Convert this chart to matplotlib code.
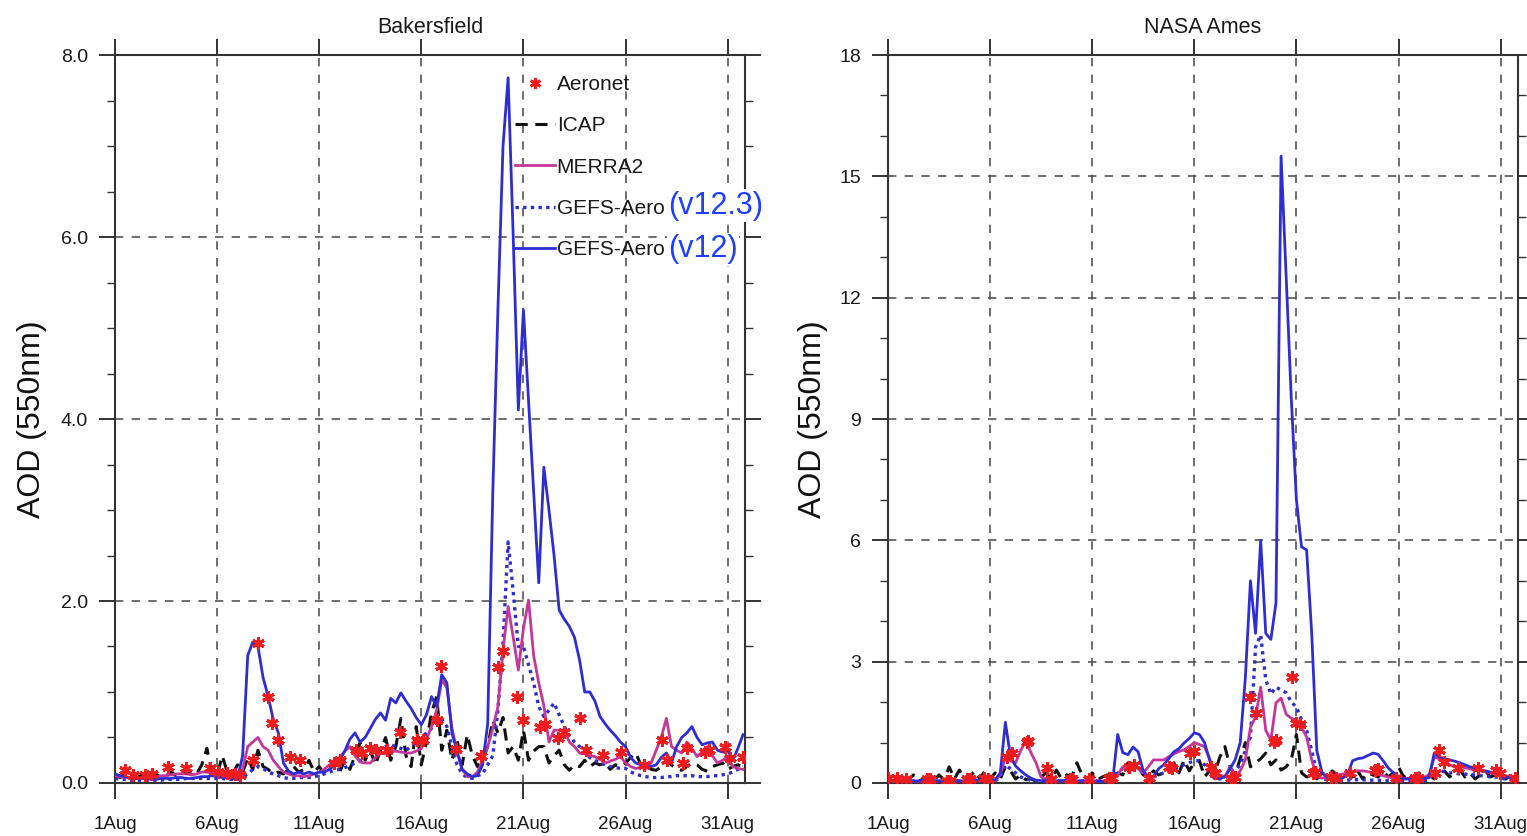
import numpy as np
import matplotlib.pyplot as plt
from matplotlib.lines import Line2D
from matplotlib.ticker import MultipleLocator, FormatStrFormatter

plt.rcParams['font.family'] = ['Liberation Sans', 'DejaVu Sans']

# model series are 6-hourly from 1 Aug 00Z (4 values per day, 31 days)
STEP = 0.25

date_ticks = [0, 5, 10, 15, 20, 25, 30]
date_labels = ['1Aug', '6Aug', '11Aug', '16Aug', '21Aug', '26Aug', '31Aug']

# ---- Bakersfield ----
bak_v12 = [
    0.10, 0.08, 0.07, 0.06,  0.05, 0.05, 0.05, 0.04,  0.04, 0.05, 0.05, 0.05,
    0.06, 0.06, 0.05, 0.05,  0.06, 0.07, 0.07, 0.08,  0.07, 0.06, 0.06, 0.05,
    0.05, 0.30, 1.40, 1.55,  1.50, 1.16, 0.95, 0.70,  0.55, 0.22, 0.13, 0.10,
    0.12, 0.10, 0.12, 0.10,  0.12, 0.12, 0.15, 0.20,  0.25, 0.35, 0.48, 0.55,
    0.45, 0.50, 0.60, 0.70,  0.77, 0.69, 0.93, 0.88,  0.99, 0.90, 0.82, 0.72,
    0.64, 0.75, 0.95, 0.84,  1.19, 1.10, 0.55, 0.35,  0.15, 0.10, 0.07, 0.08,
    0.20, 0.65, 3.20, 5.20,  7.00, 7.75, 6.00, 4.10,  5.20, 4.20, 3.20, 2.20,
    3.47, 3.00, 2.50, 1.90,  1.80, 1.72, 1.60, 1.35,  1.00, 1.00, 0.90, 0.73,
    0.65, 0.58, 0.52, 0.45,  0.40, 0.28, 0.22, 0.20,  0.18, 0.18, 0.20, 0.28,
    0.33, 0.22, 0.40, 0.50,  0.55, 0.62, 0.50, 0.42,  0.44, 0.45, 0.36, 0.34,
    0.36, 0.25, 0.38, 0.53,
]
bak_v123 = [
    0.05, 0.04, 0.04, 0.03,  0.03, 0.03, 0.03, 0.03,  0.03, 0.03, 0.04, 0.04,
    0.04, 0.04, 0.05, 0.05,  0.05, 0.05, 0.05, 0.05,  0.05, 0.05, 0.04, 0.04,
    0.04, 0.06, 0.10, 0.15,  0.18, 0.16, 0.12, 0.10,  0.08, 0.06, 0.05, 0.05,
    0.06, 0.06, 0.06, 0.07,  0.08, 0.10, 0.12, 0.14,  0.15, 0.17, 0.19, 0.22,
    0.25, 0.30, 0.32, 0.35,  0.38, 0.40, 0.42, 0.40,  0.38, 0.36, 0.40, 0.45,
    0.50, 0.55, 0.60, 0.66,  0.70, 0.62, 0.40, 0.20,  0.10, 0.06, 0.05, 0.08,
    0.10, 0.20, 0.30, 0.80,  1.54, 2.65, 2.10, 1.50,  1.50, 1.30, 1.10, 0.84,
    0.73, 0.80, 0.88, 0.75,  0.62, 0.52, 0.45, 0.40,  0.33, 0.28, 0.25, 0.22,
    0.20, 0.18, 0.17, 0.16,  0.16, 0.12, 0.10, 0.08,  0.07, 0.06, 0.06, 0.06,
    0.07, 0.07, 0.08, 0.08,  0.08, 0.08, 0.07, 0.07,  0.07, 0.08, 0.08, 0.09,
    0.10, 0.12, 0.15, 0.18,
]
bak_merra = [
    0.08, 0.07, 0.06, 0.06,  0.05, 0.05, 0.06, 0.06,  0.07, 0.08, 0.08, 0.09,
    0.10, 0.10, 0.10, 0.09,  0.10, 0.12, 0.12, 0.11,  0.10, 0.09, 0.08, 0.07,
    0.08, 0.15, 0.40, 0.45,  0.50, 0.40, 0.36, 0.25,  0.18, 0.12, 0.10, 0.08,
    0.08, 0.07, 0.08, 0.10,  0.12, 0.15, 0.20, 0.22,  0.28, 0.35, 0.40, 0.30,
    0.23, 0.22, 0.22, 0.28,  0.33, 0.32, 0.35, 0.35,  0.34, 0.33, 0.33, 0.35,
    0.38, 0.48, 0.62, 0.80,  1.13, 1.05, 0.60, 0.35,  0.15, 0.07, 0.07, 0.12,
    0.25, 0.40, 0.60, 0.84,  1.46, 1.94, 1.60, 1.24,  1.70, 2.01, 1.40, 1.10,
    0.85, 0.45, 0.58, 0.58,  0.58, 0.45, 0.40, 0.33,  0.32, 0.30, 0.29, 0.26,
    0.22, 0.24, 0.26, 0.29,  0.22, 0.18, 0.16, 0.17,  0.16, 0.22, 0.36, 0.50,
    0.71, 0.40, 0.36, 0.33,  0.45, 0.38, 0.29, 0.34,  0.40, 0.30, 0.22, 0.25,
    0.29, 0.18, 0.16, 0.15,
]
bak_icap = [
    0.08, 0.06, 0.10, 0.05,  0.05, 0.08, 0.04, 0.06,  0.10, 0.06, 0.08, 0.12,
    0.08, 0.10, 0.15, 0.08,  0.10, 0.20, 0.38, 0.12,  0.08, 0.30, 0.12, 0.10,
    0.20, 0.12, 0.27, 0.15,  0.36, 0.18, 0.15, 0.10,  0.12, 0.10, 0.15, 0.18,
    0.12, 0.15, 0.25, 0.12,  0.18, 0.10, 0.15, 0.22,  0.12, 0.25, 0.15, 0.30,
    0.44, 0.25, 0.36, 0.20,  0.36, 0.50, 0.25, 0.40,  0.71, 0.30, 0.18, 0.62,
    0.20, 0.45, 0.77, 0.95,  0.36, 0.58, 0.25, 0.47,  0.20, 0.53, 0.30, 0.18,
    0.25, 0.40, 0.69, 0.55,  0.72, 0.33, 0.40, 0.25,  0.58, 0.25, 0.35, 0.40,
    0.40, 0.22, 0.30, 0.36,  0.20, 0.14, 0.20, 0.18,  0.25, 0.18, 0.22, 0.20,
    0.22, 0.15, 0.20, 0.18,  0.22, 0.28, 0.33, 0.20,  0.22, 0.15, 0.14, 0.18,
    0.25, 0.20, 0.15, 0.14,  0.18, 0.22, 0.20, 0.15,  0.13, 0.18, 0.20, 0.22,
    0.15, 0.18, 0.20, 0.18,
]
bak_obs_day = [0.5, 0.9, 1.47, 1.8, 2.6, 3.5, 4.65, 5.05, 5.5, 5.9, 6.1, 6.75,
               7.0, 7.5, 7.7, 8.0, 8.56, 9.05, 10.7, 11.0, 11.8, 12.1, 12.5,
               12.8, 13.3, 13.95, 14.8, 15.1, 15.75, 15.95, 16.7, 17.9, 18.75,
               19.0, 19.7, 20.0, 20.8, 21.05, 21.7, 22.0, 22.76, 23.05, 23.9,
               24.8, 25.9, 26.8, 27.05, 27.8, 28.0, 28.9, 29.1, 29.85, 30.1,
               30.75]
bak_obs_aod = [0.14, 0.09, 0.09, 0.10, 0.18, 0.16, 0.16, 0.12, 0.11, 0.10,
               0.09, 0.25, 1.54, 0.95, 0.66, 0.47, 0.29, 0.25, 0.22, 0.25,
               0.36, 0.33, 0.39, 0.36, 0.36, 0.56, 0.47, 0.47, 0.69, 1.29,
               0.37, 0.30, 1.28, 1.45, 0.95, 0.69, 0.62, 0.65, 0.49, 0.56,
               0.71, 0.36, 0.31, 0.34, 0.20, 0.47, 0.25, 0.22, 0.38, 0.34,
               0.36, 0.40, 0.27, 0.29]

# ---- NASA Ames ----
ames_v12 = [
    0.08, 0.07, 0.06, 0.06,  0.05, 0.05, 0.05, 0.06,  0.06, 0.05, 0.05, 0.06,
    0.07, 0.06, 0.05, 0.05,  0.06, 0.07, 0.07, 0.06,  0.06, 0.08, 0.25, 1.50,
    0.65, 0.42, 0.30, 0.20,  0.12, 0.07, 0.06, 0.05,  0.05, 0.05, 0.06, 0.06,
    0.06, 0.05, 0.05, 0.05,  0.05, 0.04, 0.04, 0.03,  0.03, 1.20, 0.75, 0.70,
    0.89, 0.77, 0.30, 0.15,  0.15, 0.35, 0.45, 0.60,  0.77, 0.85, 0.99, 1.10,
    1.24, 1.20, 1.00, 0.57,  0.10, 0.12, 0.15, 0.35,  0.57, 1.00, 2.60, 5.00,
    3.70, 6.00, 3.70, 3.55,  4.45, 15.5, 12.5, 9.50,  7.00, 5.84, 5.76, 3.70,
    0.80, 0.27, 0.15, 0.10,  0.10, 0.12, 0.20, 0.55,  0.60, 0.62, 0.68, 0.74,
    0.71, 0.55, 0.37, 0.25,  0.12, 0.10, 0.10, 0.10,  0.11, 0.12, 0.13, 0.74,
    0.64, 0.60, 0.57, 0.54,  0.50, 0.45, 0.40, 0.37,  0.33, 0.30, 0.27, 0.25,
    0.20, 0.15, 0.12, 0.10,
]
ames_v123 = [
    0.05, 0.04, 0.04, 0.04,  0.04, 0.05, 0.05, 0.05,  0.05, 0.05, 0.05, 0.05,
    0.05, 0.05, 0.05, 0.06,  0.06, 0.06, 0.05, 0.05,  0.05, 0.05, 0.15, 0.45,
    0.35, 0.25, 0.15, 0.10,  0.07, 0.05, 0.05, 0.05,  0.05, 0.05, 0.05, 0.05,
    0.05, 0.05, 0.05, 0.05,  0.05, 0.05, 0.05, 0.05,  0.05, 0.30, 0.35, 0.30,
    0.40, 0.35, 0.25, 0.15,  0.15, 0.20, 0.25, 0.30,  0.35, 0.40, 0.45, 0.50,
    0.55, 0.55, 0.45, 0.30,  0.10, 0.10, 0.12, 0.20,  0.30, 0.45, 0.80, 1.14,
    3.36, 3.66, 2.55, 2.20,  2.37, 2.30, 2.23, 2.00,  1.88, 1.56, 1.30, 0.80,
    0.25, 0.12, 0.08, 0.06,  0.06, 0.06, 0.07, 0.08,  0.08, 0.08, 0.07, 0.07,
    0.07, 0.06, 0.06, 0.06,  0.05, 0.05, 0.05, 0.05,  0.06, 0.06, 0.08, 0.30,
    0.30, 0.28, 0.25, 0.25,  0.22, 0.22, 0.20, 0.20,  0.18, 0.18, 0.15, 0.15,
    0.12, 0.10, 0.10, 0.08,
]
ames_merra = [
    0.06, 0.05, 0.05, 0.05,  0.05, 0.05, 0.04, 0.04,  0.05, 0.05, 0.05, 0.06,
    0.06, 0.05, 0.05, 0.05,  0.05, 0.06, 0.06, 0.05,  0.05, 0.06, 0.20, 0.64,
    0.55, 0.50, 0.80, 1.06,  0.75, 0.50, 0.15, 0.08,  0.06, 0.05, 0.05, 0.05,
    0.05, 0.05, 0.05, 0.05,  0.05, 0.05, 0.05, 0.06,  0.08, 0.20, 0.40, 0.42,
    0.45, 0.35, 0.25, 0.40,  0.57, 0.57, 0.57, 0.65,  0.72, 0.78, 0.82, 0.90,
    1.00, 0.95, 0.90, 0.60,  0.25, 0.20, 0.15, 0.40,  0.15, 0.30, 0.57, 1.38,
    1.63, 2.37, 1.30, 1.06,  1.98, 2.10, 1.70, 1.60,  1.56, 1.38, 1.14, 0.57,
    0.15, 0.12, 0.15, 0.18,  0.20, 0.22, 0.25, 0.28,  0.30, 0.30, 0.28, 0.25,
    0.22, 0.18, 0.15, 0.12,  0.10, 0.10, 0.12, 0.12,  0.12, 0.14, 0.20, 0.64,
    0.60, 0.55, 0.45, 0.40,  0.40, 0.38, 0.35, 0.32,  0.30, 0.28, 0.25, 0.22,
    0.20, 0.18, 0.15, 0.12,
]
ames_icap = [
    0.10, 0.05, 0.15, 0.05,  0.08, 0.20, 0.05, 0.10,  0.15, 0.05, 0.20, 0.08,
    0.40, 0.10, 0.32, 0.08,  0.15, 0.30, 0.10, 0.30,  0.10, 0.25, 0.10, 0.40,
    0.30, 0.10, 0.20, 0.08,  0.10, 0.05, 0.15, 0.25,  0.10, 0.32, 0.10, 0.20,
    0.15, 0.50, 0.20, 0.10,  0.25, 0.08, 0.15, 0.20,  0.10, 0.25, 0.20, 0.50,
    0.30, 0.40, 0.20, 0.15,  0.30, 0.20, 0.25, 0.35,  0.50, 0.25, 0.57, 0.30,
    0.50, 0.55, 0.15, 0.30,  0.25, 0.64, 0.90, 0.40,  0.20, 0.60, 1.00, 0.40,
    0.50, 0.60, 0.74, 0.45,  0.57, 0.32, 0.40, 0.57,  1.20, 0.25, 0.15, 0.20,
    0.10, 0.25, 0.15, 0.30,  0.20, 0.10, 0.25, 0.15,  0.30, 0.10, 0.25, 0.20,
    0.15, 0.30, 0.15, 0.25,  0.40, 0.15, 0.20, 0.10,  0.25, 0.15, 0.20, 0.10,
    0.20, 0.30, 0.15, 0.25,  0.33, 0.15, 0.25, 0.10,  0.20, 0.30, 0.15, 0.20,
    0.25, 0.10, 0.20, 0.15,
]
ames_obs_day = [0.0, 0.45, 0.9, 1.9, 2.05, 2.9, 3.05, 3.85, 4.0, 4.7, 4.9,
                5.85, 6.05, 6.8, 6.85, 7.8, 8.0, 8.9, 9.0, 9.85, 10.8, 10.95,
                11.8, 12.05, 12.8, 13.75, 13.9, 14.8, 15.0, 15.8, 16.0, 16.8,
                17.0, 17.75, 18.0, 18.9, 19.0, 19.76, 20.0, 20.2, 20.8, 20.9,
                21.7, 21.95, 22.6, 23.85, 24.0, 24.9, 25.8, 25.95, 26.8, 27.0,
                27.25, 27.9, 28.9, 29.76, 29.95, 30.7]
ames_obs_aod = [0.12, 0.12, 0.10, 0.10, 0.10, 0.05, 0.05, 0.10, 0.10, 0.12,
                0.10, 0.64, 0.74, 1.01, 1.05, 0.37, 0.10, 0.10, 0.10, 0.10,
                0.12, 0.12, 0.40, 0.45, 0.12, 0.40, 0.38, 0.74, 0.78, 0.40,
                0.25, 0.12, 0.15, 2.13, 1.73, 1.01, 1.06, 2.62, 1.48, 1.45,
                0.25, 0.27, 0.15, 0.12, 0.25, 0.32, 0.35, 0.12, 0.12, 0.12,
                0.25, 0.82, 0.52, 0.37, 0.37, 0.32, 0.25, 0.12]

C_V12 = '#2d2dd2'
C_MERRA = '#c4379a'
C_ICAP = '#111111'
C_OBS = '#ee1c1c'
STAR = (6, 2, 0)
AX_COL = '#333333'


def draw_panel(ax, title, ymax, ymajor, yminor, yfmt, icap, merra, v123, v12,
               obs_day, obs_aod):
    t = np.arange(len(v12)) * STEP
    ax.plot(t, icap, color=C_ICAP, lw=2.2, ls=(0, (4, 2.5)), zorder=3)
    ax.plot(t, v123, color=C_V12, lw=2.4, ls=(0, (1, 1.3)), zorder=4)
    ax.plot(t, merra, color=C_MERRA, lw=2.0, zorder=5)
    ax.plot(t, v12, color=C_V12, lw=2.0, zorder=6)
    ax.plot(obs_day, obs_aod, ls='none', marker=STAR, ms=9, mew=2.2,
            color=C_OBS, zorder=7)

    ax.set_xlim(0, 30.85)
    ax.set_ylim(0, ymax)
    ax.set_xticks(date_ticks)
    ax.set_xticklabels(date_labels)
    ax.yaxis.set_major_locator(MultipleLocator(ymajor))
    ax.yaxis.set_minor_locator(MultipleLocator(yminor))
    ax.yaxis.set_major_formatter(FormatStrFormatter(yfmt))

    ax.grid(True, which='major', ls=(0, (5, 5)), color='#555555', lw=1.2)
    ax.set_axisbelow(True)
    for sp in ax.spines.values():
        sp.set_color(AX_COL)
        sp.set_linewidth(1.5)
    ax.tick_params(which='both', direction='out', top=True, right=True,
                   color=AX_COL, labelcolor='#1a1a1a')
    ax.tick_params(which='major', length=11.5, width=1.4)
    ax.tick_params(axis='y', which='major', pad=8, labelsize=14)
    ax.tick_params(axis='x', which='major', pad=12, labelsize=13.5)
    ax.tick_params(which='minor', length=6, width=1.0)
    ax.xaxis.set_minor_locator(plt.NullLocator())

    ax.set_title(title, fontsize=15.5, color='#1a1a1a', pad=16)
    ax.set_ylabel('AOD (550nm)', fontsize=23, color='#111111')


fig = plt.figure(figsize=(15.27, 8.36), dpi=100)
ax1 = fig.add_axes([0.0753, 0.0634, 0.4126, 0.8708])
ax2 = fig.add_axes([0.5815, 0.0634, 0.4126, 0.8708])

draw_panel(ax1, 'Bakersfield', 8.0, 2.0, 0.5, '%.1f', bak_icap, bak_merra,
           bak_v123, bak_v12, bak_obs_day, bak_obs_aod)
draw_panel(ax2, 'NASA Ames', 18, 3, 1, '%d', ames_icap, ames_merra,
           ames_v123, ames_v12, ames_obs_day, ames_obs_aod)
ax1.yaxis.set_label_coords(-0.108, 0.5)
ax2.yaxis.set_label_coords(-0.095, 0.5)

handles = [
    Line2D([], [], ls='none', marker=STAR, ms=8, mew=2, color=C_OBS),
    Line2D([], [], color=C_ICAP, lw=2.2, ls=(0, (4, 2.5))),
    Line2D([], [], color=C_MERRA, lw=2.0),
    Line2D([], [], color=C_V12, lw=2.4, ls=(0, (1, 1.3))),
    Line2D([], [], color=C_V12, lw=2.0),
]
labels = ['Aeronet', 'ICAP', 'MERRA2', 'GEFS-Aero', 'GEFS-Aero']
leg = ax1.legend(handles, labels, loc='upper left', bbox_to_anchor=(0.635, 0.9725),
                 frameon=False, fontsize=15, handlelength=1.9, handletextpad=0.1,
                 labelspacing=1.07, borderpad=0, borderaxespad=0, numpoints=1)
for txt in leg.get_texts():
    txt.set_color('#1a1a1a')

for s, y in [('(v12.3)', 0.793), ('(v12)', 0.733)]:
    ax1.text(0.878, y, s, transform=ax1.transAxes, fontsize=22, color='#1f3fff',
             ha='left', va='center', clip_on=False, zorder=10,
             bbox=dict(facecolor='white', edgecolor='none', pad=1))

fig.savefig('out.png', dpi=100)
